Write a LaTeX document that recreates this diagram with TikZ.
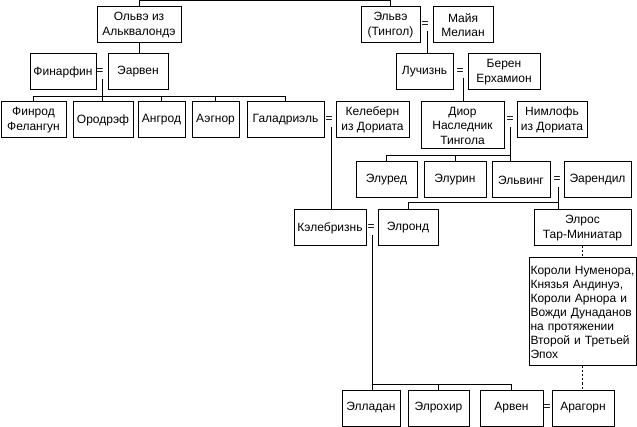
\documentclass[tikz,border=0pt]{standalone}
\usepackage{fontspec}
\setmainfont{Liberation Sans}
\begin{document}
\begin{tikzpicture}[x=1pt,y=-1pt,
  line width=1pt,
  box/.style={draw, line width=1pt, inner sep=1pt, align=center, minimum height=36pt,
    font=\fontsize{12}{14.5}\selectfont},
  eqs/.style={inner sep=0pt, font=\fontsize{12}{14.5}\selectfont},
  dsh/.style={dash pattern=on 2pt off 2pt}]
\useasboundingbox (0,0) rectangle (637,427);
% boxes
\node[box, minimum width=84pt] (olwe) at (139,25) {Ольвэ из\\Альквалондэ};
\node[box, minimum width=59pt] (elwe) at (390.5,25) {Эльвэ\\(Тингол)};
\node[box, minimum width=60pt] (melian) at (463,25) {Майя\\Мелиан};
\node[box, minimum width=66pt] (finarfin) at (63,72) {Финарфин};
\node[box, minimum width=60pt] (earwen) at (138,72) {Эарвен};
\node[box, minimum width=57pt] (luthien) at (424.5,72) {Лучизнь};
\node[box, minimum width=72pt] (beren) at (504,72) {Берен\\Ерхамион};
\node[box, minimum width=65pt] (finrod) at (33.5,120) {Финрод\\Фелангун};
\node[box, minimum width=60pt] (orodreth) at (103,120) {Ородрэф};
\node[box, minimum width=47pt] (angrod) at (161.5,120) {Ангрод};
\node[box, minimum width=47pt] (aegnor) at (215.5,120) {Аэгнор};
\node[box, minimum width=77pt] (galadriel) at (285.5,120) {Галадриэль};
\node[box, minimum width=73pt] (celeborn) at (372.5,120) {Келеберн\\из Дориата};
\node[box, minimum width=83pt, minimum height=47pt] (dior) at (462.5,125.5) {Диор\\Наследник\\Тингола};
\node[box, minimum width=70pt] (nimloth) at (552,120) {Нимлофь\\из Дориата};
\node[box, minimum width=61pt] (elured) at (386.5,180) {Элуред};
\node[box, minimum width=62pt] (elurin) at (455,180) {Элурин};
\node[box, minimum width=58pt] (elwing) at (521,180) {Эльвинг};
\node[box, minimum width=67pt] (earendil) at (597.5,180) {Эарендил};
\node[box, minimum width=72pt] (celebrian) at (330,228) {Кэлебризнь};
\node[box, minimum width=60pt] (elrond) at (408,228) {Элронд};
\node[box, minimum width=97pt] (elros) at (582.5,228) {Элрос\\Тар-Миниатар};
\node[box, text width=104pt, align=left, inner sep=1.5pt, minimum height=108pt,
  font=\fontsize{12}{14}\selectfont] (kings) at (582.5,312)
  {Короли Нуменора,\\Князья Андинуэ,\\Короли Арнора и\\Вожди Дунаданов\\на протяжении\\Второй и Третьей\\Эпох};
\node[box, minimum width=58pt] (elladan) at (371,408) {Элладан};
\node[box, minimum width=61pt] (elrohir) at (438.5,408) {Элрохир};
\node[box, minimum width=63pt] (arwen) at (511.5,408) {Арвен};
\node[box, minimum width=62pt] (aragorn) at (583,408) {Арагорн};
% marriage signs
\node[eqs] (e1) at (100,72) {=};
\node[eqs] (e2) at (425,25) {=};
\node[eqs] (e3) at (460,72) {=};
\node[eqs] (e4) at (329,120) {=};
\node[eqs] (e5) at (510,120) {=};
\node[eqs] (e6) at (557,180) {=};
\node[eqs] (e7) at (371,228) {=};
\node[eqs] (e8) at (547,408) {=};
% line starts below the signs
\coordinate (d1) at (102,79);
\coordinate (d2) at (427,31);
\coordinate (d3) at (463,78);
\coordinate (d4) at (331,127);
\coordinate (d5) at (510,127);
\coordinate (d6) at (558,187);
\coordinate (d7) at (372,235);
% bus levels
\coordinate (top) at (0,1);
\coordinate (b1) at (0,97);
\coordinate (b5) at (0,156);
\coordinate (b6) at (0,203);
\coordinate (b7) at (0,384);
% connectors
\draw (olwe.north) -- (olwe.north |- top) -| (elwe.north);
\draw (olwe.south) -- (olwe.south |- earwen.north);
\draw (d2) -- (d2 |- luthien.north);
\draw (d3) -- (d3 |- dior.north);
\draw (d1) -- (d1 |- orodreth.north);
\draw (finrod.north) |- (b1 -| galadriel.north) -- (galadriel.north);
\draw (angrod.north) -- (angrod.north |- b1);
\draw (aegnor.north) -- (aegnor.north |- b1);
\draw (d4) -- (d4 |- celebrian.north);
\draw (d5) -- (d5 |- elwing.north);
\draw (elured.north) |- (b5 -| d5);
\draw (elurin.north) -- (elurin.north |- b5);
\draw (d6) -- (d6 |- elros.north);
\draw (elrond.north) |- (b6 -| d6);
\draw (d7) -- (d7 |- elladan.north);
\draw (d7 |- b7) -| (arwen.north);
\draw (elrohir.north) -- (elrohir.north |- b7);
\draw[dsh] (elros.south) -- (kings.north);
\draw[dsh] (kings.south) -- (kings.south |- aragorn.north);
\end{tikzpicture}
\end{document}
